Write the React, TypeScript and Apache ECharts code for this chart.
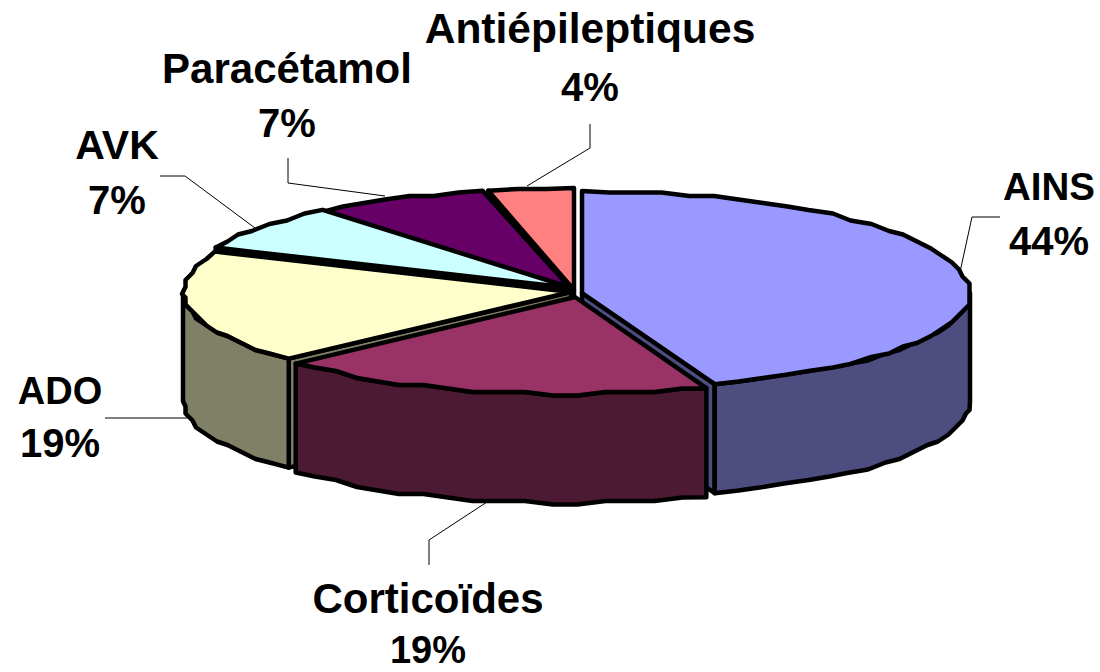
import React, { useEffect, useRef } from "react";
import * as echarts from "echarts";

const categories = ["AINS", "Corticoïdes", "ADO", "AVK", "Paracétamol", "Antiépileptiques"];
const counts = [12, 5, 5, 2, 2, 1];
const topColors = ["#9999FF", "#993366", "#FFFFCC", "#CCFFFF", "#660066", "#FF8080"];
const sideColors = ["#4D4D80", "#4D1A33", "#808066", "#668080", "#330033", "#804040"];
const apexX = [582, 575, 571, 572, 572, 574];
const apexY = [293, 297, 292, 288, 290, 290];
const radiusX = [388, 384, 388, 388, 388, 372];
const paintOrder = [4, 5, 3, 2, 1, 0];
const labelX = [1049, 428, 60, 117, 287, 590];
const nameY = [186, 598, 391, 145, 68, 28];
const pctY = [241, 650, 443, 200, 123, 87];
const pctSize = [40, 38, 40, 40, 40, 40];
const nameSize = [38.5, 42, 38, 41, 42, 42.5];
const leaders = [
  [[1000, 217], [972, 217], [960, 272]],
  [[429, 565], [429, 540], [487, 502]],
  [[105, 418], [187, 418]],
  [[160, 176], [185, 176], [255, 228]],
  [[288, 158], [288, 183], [385, 196]],
  [[590, 124], [590, 148], [527, 186]],
];

const RY_BACK = 102;
const RY_FRONT = 97;
const DEPTH = 109;
const STEP = 4;
const SNAP = 3.5;
const FONT = "'Liberation Sans', Arial, sans-serif";

const total = counts.reduce((a, b) => a + b, 0);
const rad = (d: number) => (d * Math.PI) / 180;

function project(i: number, deg: number, drop = 0): number[] {
  const c = Math.cos(rad(deg));
  const x = apexX[i] + radiusX[i] * Math.sin(rad(deg));
  const y = apexY[i] - (c > 0 ? RY_BACK : RY_FRONT) * c + drop;
  return [x, y];
}

function arc(i: number, from: number, to: number, drop = 0): number[][] {
  const pts: number[][] = [];
  const n = Math.max(1, Math.round((to - from) / STEP));
  for (let k = 0; k <= n; k++) {
    const p = project(i, from + ((to - from) * k) / n);
    const inner = k > 0 && k < n;
    pts.push([
      inner ? Math.round(p[0] / SNAP) * SNAP : p[0],
      (inner ? Math.round(p[1] / SNAP) * SNAP : p[1]) + drop,
    ]);
  }
  return pts;
}

function renderSlice(params: any, api: any) {
  const i = params.dataIndex;
  const before = counts.slice(0, i).reduce((a, b) => a + b, 0);
  const a0 = (before / total) * 360;
  const a1 = ((before + api.value(0)) / total) * 360;
  const z = paintOrder[i] * 10;
  const apex = [apexX[i], apexY[i]];
  const stroke = { stroke: "#000", lineWidth: 4.5, lineJoin: "round" };
  const children: any[] = [];

  const wall = (deg: number, normal: number, zz: number) => {
    if (Math.cos(rad(normal)) >= 0) return;
    const p = project(i, deg);
    children.push({
      type: "polygon",
      z2: zz,
      shape: { points: [apex, p, [p[0], p[1] + DEPTH], [apex[0], apex[1] + DEPTH]] },
      style: { fill: sideColors[i], ...stroke },
    });
  };
  wall(a0, a0 - 90, z);
  wall(a1, a1 + 90, z + 1);

  const f0 = Math.max(a0, 90);
  const f1 = Math.min(a1, 270);
  if (f1 > f0) {
    children.push({
      type: "polygon",
      z2: z + 2,
      shape: { points: [...arc(i, f0, f1), ...arc(i, f0, f1, DEPTH).reverse()] },
      style: { fill: sideColors[i], ...stroke },
    });
  }
  children.push({
    type: "polygon",
    z2: z + 3,
    shape: { points: [apex, ...arc(i, a0, a1)] },
    style: { fill: topColors[i], ...stroke },
  });
  children.push({
    type: "polyline",
    z2: 100,
    shape: { points: leaders[i] },
    style: { fill: "none", stroke: "#000", lineWidth: 1 },
  });
  const text = (t: string, y: number, size: number) => ({
    type: "text",
    z2: 101,
    x: labelX[i],
    y,
    style: {
      text: t,
      fill: "#000",
      font: `bold ${size}px ${FONT}`,
      align: "center",
      verticalAlign: "middle",
    },
  });
  children.push(text(categories[i], nameY[i], nameSize[i]));
  children.push(text(`${Math.round((api.value(0) / total) * 100)}%`, pctY[i], pctSize[i]));
  return { type: "group", children };
}

export default function App() {
  const ref = useRef<HTMLDivElement>(null);
  useEffect(() => {
    const chart = echarts.init(ref.current!, undefined, { renderer: "svg" });
    chart.setOption({
      animation: false,
      backgroundColor: "#fff",
      series: [
        {
          type: "custom",
          coordinateSystem: "none",
          renderItem: renderSlice,
          data: counts.map((v, i) => ({ name: categories[i], value: [v] })),
          silent: true,
        },
      ],
    });
    return () => chart.dispose();
  }, []);
  return (
    <div
      ref={ref}
      style={{ position: "absolute", left: 0, top: 0, width: 1100, height: 672 }}
    />
  );
}
